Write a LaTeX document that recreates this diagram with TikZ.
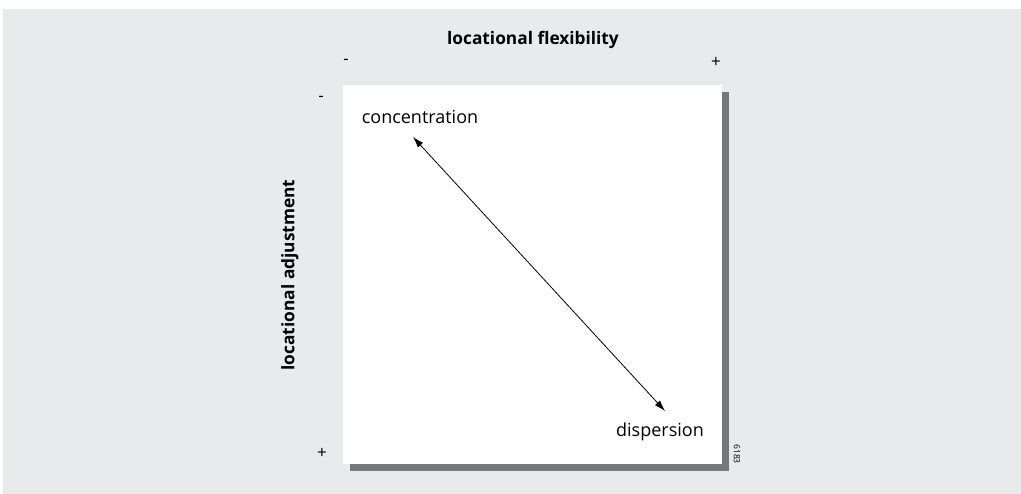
\documentclass[tikz,border=0pt]{standalone}
\usepackage{fontspec}
\setmainfont{Open Sans}
\usetikzlibrary{arrows.meta}
\definecolor{bggray}{HTML}{E9EAEC}
\definecolor{shadowgray}{HTML}{777777}
\tikzset{
	lbl/.style={inner sep=0pt, font=\fontsize{18}{21}\selectfont},
	axislbl/.style={inner sep=0pt, font=\fontsize{17.3}{20}\selectfont\bfseries},
	sgn/.style={inner sep=0pt, font=\fontsize{17}{20}\selectfont}
}
\begin{document}
\begin{tikzpicture}[x=1pt, y=-1pt]
		\useasboundingbox (0,0) rectangle (1021,494);
		\fill[bggray] (3,9) rectangle (1021,494);

		% box with shadow
		\fill[shadowgray] (350,92) rectangle (729,471);
		\fill[white] (343,85) rectangle (722,464);

		% axes
		\node[axislbl] (flex) at (533,40) {locational flexibility};
		\node[axislbl, rotate=90] (adj) at (290,275) {locational adjustment};
		\node[sgn] (fminus) at (346,62) {-};
		\node[sgn] (fplus) at (716,62) {+};
		\node[sgn] (aminus) at (321,99) {-};
		\node[sgn] (aplus) at (322,453) {+};

		% poles
		\node[lbl] (conc) at (420,117) {concentration};
		\node[lbl] (disp) at (660,432) {dispersion};

		\coordinate (c1) at (413,137);
		\coordinate (c2) at (665,411);
		\draw[thick, {Latex[length=11pt,width=7pt]}-{Latex[length=11pt,width=7pt]}] (c1) -- (c2);

		\node[inner sep=0pt, rotate=-90, font=\fontsize{8.5}{10}\selectfont] (num) at (737,454) {6183};
	\end{tikzpicture}
\end{document}
